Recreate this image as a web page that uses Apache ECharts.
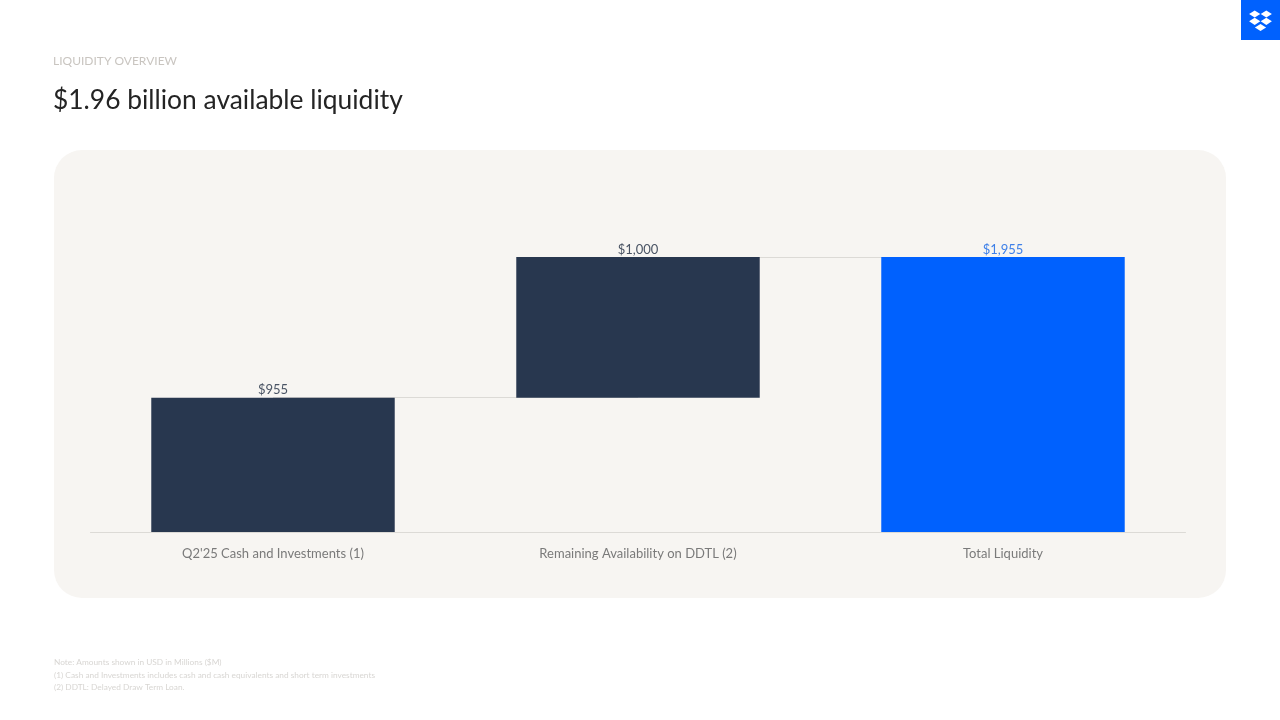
<!DOCTYPE html>
<html>
<head>
<meta charset="utf-8">
<style>html,body{margin:0;padding:0;background:#fff}#c{width:1280px;height:720px}</style>
<script src="https://cdn.jsdelivr.net/npm/echarts@6/dist/echarts.min.js"></script>
</head>
<body>
<div id="c"></div>
<script>
const categories = ["Q2'25 Cash and Investments (1)", "Remaining Availability on DDTL (2)", "Total Liquidity"];
const baseValues = [0, 955, 0];
const barValues = [955, 1000, 1955];
const barColors = ['#28374f', '#28374f', '#0061fe'];
const labelColors = ['#4a5464', '#4a5464', '#3f80e8'];
const connectors = [[0, 1, 955], [1, 2, 1955]];
const eyebrow = 'LIQUIDITY OVERVIEW';
const title = '$1.96 billion available liquidity';
const footnotes = ['Note: Amounts shown in USD in Millions ($M)',
  '(1) Cash and Investments includes cash and cash equivalents and short term investments',
  '(2) DDTL: Delayed Draw Term Loan.'];
const FONT = 'Lato, "Open Sans", sans-serif';

function diamond(cx, cy) {
  return { type: 'polygon', z: 1, shape: { points: [[cx - 5.6, cy], [cx, cy - 3.6], [cx + 5.6, cy], [cx, cy + 3.6]] }, style: { fill: '#fff' } };
}
const chart = echarts.init(document.getElementById('c'), null, { renderer: 'canvas' });
chart.setOption({
  animation: false,
  backgroundColor: '#ffffff',
  graphic: [
    { type: 'rect', z: 0, shape: { x: 54, y: 150, width: 1172, height: 448, r: 28 }, style: { fill: '#f7f5f2' } },
    { type: 'text', left: 53, top: 55, style: { text: eyebrow, font: '12px ' + FONT, fill: '#c9c5c0' } },
    { type: 'text', left: 53, top: 87, style: { text: title, font: '26.4px ' + FONT, fill: '#242424' } },
    { type: 'text', left: 54, top: 658, style: { text: footnotes[0], font: '8.3px ' + FONT, fill: '#d8d6d3' } },
    { type: 'text', left: 54, top: 671, style: { text: footnotes[1], font: '8.3px ' + FONT, fill: '#d8d6d3' } },
    { type: 'text', left: 54, top: 683, style: { text: footnotes[2], font: '8.3px ' + FONT, fill: '#d8d6d3' } },
    { type: 'rect', z: 0, shape: { x: 1241, y: 0, width: 39, height: 40 }, style: { fill: '#0061fe' } },
    diamond(1254.7, 14), diamond(1266.3, 14), diamond(1254.7, 21.3), diamond(1266.3, 21.3), diamond(1260.5, 27.5)
  ],
  grid: { left: 90.5, right: 94.5, top: 257, height: 275, containLabel: false },
  xAxis: {
    type: 'category', data: categories,
    axisLine: { lineStyle: { color: '#dcdad6', width: 1 } },
    axisTick: { show: false },
    axisLabel: { color: '#7a7a7a', fontFamily: FONT, fontSize: 13, margin: 15 }
  },
  yAxis: { type: 'value', min: 0, max: 1955, show: false, splitLine: { show: false } },
  series: [
    {
      type: 'bar', stack: 'w', data: baseValues, barWidth: '66.7%', z: 3,
      itemStyle: { color: 'transparent' }, silent: true,
      markLine: {
        silent: true, symbol: 'none', animation: false, z: 1,
        label: { show: false },
        lineStyle: { color: '#dcdad6', width: 1, type: 'solid' },
        data: connectors.map(c => [{ xAxis: c[0], yAxis: c[2] }, { xAxis: c[1], yAxis: c[2] }])
      }
    },
    {
      type: 'bar', stack: 'w', barWidth: '66.7%', z: 3,
      data: barValues.map((v, i) => ({
        value: v,
        itemStyle: { color: barColors[i] },
        label: { color: labelColors[i] }
      })),
      label: {
        show: true, position: 'top', distance: 1, fontFamily: FONT, fontSize: 13,
        formatter: p => '$' + p.value.toLocaleString('en-US')
      }
    }
  ]
});
</script>
</body>
</html>
